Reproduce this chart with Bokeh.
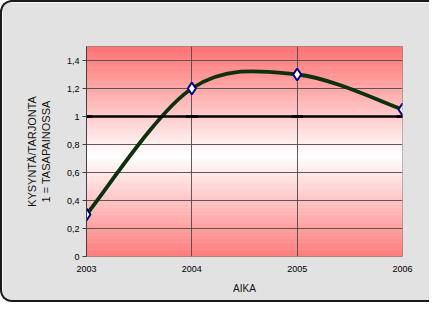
from bokeh.plotting import figure
from bokeh.embed import file_html
from bokeh.resources import INLINE
from bokeh.models import FixedTicker, Range1d, Span
import numpy as np

# ---- data ----
years = [2003, 2004, 2005, 2006]
ratio = [0.30, 1.20, 1.30, 1.05]
balance = [1, 1, 1, 1]
y_ticks = [0, 0.2, 0.4, 0.6, 0.8, 1, 1.2, 1.4]
y_tick_labels = ["0", "0,2", "0,4", "0,6", "0,8", "1", "1,2", "1,4"]
x_tick_labels = ["2003", "2004", "2005", "2006"]
x_title = "AIKA"
y_title = "KYSYNTÄ/TARJONTA\n1 = TASAPAINOSSA"

W, H = 429, 302
L, T = 84, 44
p = figure(width=W, height=H, output_backend="svg", toolbar_location=None,
           x_range=Range1d(years[0], years[-1]), y_range=Range1d(0, 1.5),
           min_border_left=L, min_border_right=W - L - 316,
           min_border_top=T, min_border_bottom=H - T - 210)
p.styles = {"border-left": "2px solid #1a1a1a", "border-top": "2px solid #1a1a1a",
            "border-bottom": "2px solid #1a1a1a",
            "border-top-left-radius": "12px", "border-bottom-left-radius": "12px",
            "overflow": "hidden"}
p.border_fill_color = "#e2e2e2"
p.background_fill_color = "white"
p.outline_line_color = "#808080"
p.outline_line_width = 1

# gradient background of plot area (decoration): red at edges, white at centre
n = 60
edges = np.linspace(0, 1.5, n + 1)
mids = (edges[:-1] + edges[1:]) / 2
cols = []
for m in mids:
    t = min(1.0, abs(m - 0.72) / 0.75)
    g = int(round(255 - t * (255 - 118)))
    cols.append("#%02x%02x%02x" % (255, g, g))
p.quad(left=years[0], right=years[-1], bottom=edges[:-1], top=edges[1:],
       fill_color=cols, line_color=cols, line_width=0.5, level="image")

# grid
p.xaxis.ticker = FixedTicker(ticks=years)
p.yaxis.ticker = FixedTicker(ticks=y_ticks)
p.xaxis.major_label_overrides = {y: s for y, s in zip(years, x_tick_labels)}
p.yaxis.major_label_overrides = {v: s for v, s in zip(y_ticks, y_tick_labels)}
for g in (p.xgrid, p.ygrid):
    g.grid_line_color = "#4a4a4a"
    g.grid_line_width = 1
    g.grid_line_alpha = 0.9

# balance line at 1
p.add_layout(Span(location=1, dimension="width", line_color="black", line_width=2.5))
p.scatter(years, balance, marker="dash", size=12, line_color="#222222", line_width=3)

# smoothed curve (Catmull-Rom style bezier segments through the data)
xs = np.array(years, dtype=float)
ys = np.array(ratio, dtype=float)
px = np.concatenate([[xs[0]], xs, [xs[-1]]])
py = np.concatenate([[ys[0]], ys, [ys[-1]]])
x0, y0, x1, y1, cx0, cy0, cx1, cy1 = [], [], [], [], [], [], [], []
for i in range(len(xs) - 1):
    a, b, c, d = i, i + 1, i + 2, i + 3
    x0.append(px[b]); y0.append(py[b]); x1.append(px[c]); y1.append(py[c])
    cx0.append(px[b] + (px[c] - px[a]) / 6); cy0.append(py[b] + (py[c] - py[a]) / 6)
    cx1.append(px[c] - (px[d] - px[b]) / 6); cy1.append(py[c] - (py[d] - py[b]) / 6)
p.bezier(x0=x0, y0=y0, x1=x1, y1=y1, cx0=cx0, cy0=cy0, cx1=cx1, cy1=cy1,
         line_color="#0d300e", line_width=3.8)
p.scatter(years, ratio, marker="diamond", size=12, fill_color="white",
          line_color="#000080", line_width=2)

# axes
font = "Liberation Sans"
for ax in (p.xaxis, p.yaxis):
    ax.major_label_text_font = font
    ax.major_label_text_font_size = "9px"
    ax.major_label_text_color = "black"
    ax.axis_label_text_font = font
    ax.axis_label_text_font_style = "normal"
    ax.axis_label_text_color = "#111111"
    ax.minor_tick_line_color = None
p.xaxis.axis_line_color = None
p.xaxis.major_tick_line_color = None
p.xaxis.major_label_standoff = 3
p.xaxis.axis_label = x_title
p.xaxis.axis_label_text_font_size = "10px"
p.xaxis.axis_label_standoff = 8
p.yaxis.axis_line_color = "#404040"
p.yaxis.major_tick_line_color = "#404040"
p.yaxis.major_tick_in = 0
p.yaxis.major_tick_out = 4
p.yaxis.major_label_standoff = 3
p.yaxis.axis_label = y_title
p.yaxis.axis_label_text_font_size = "11px"
p.yaxis.axis_label_standoff = 12

open("out.html", "w").write(file_html(p, INLINE))
